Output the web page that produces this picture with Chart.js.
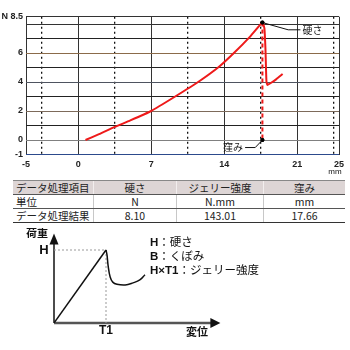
<!DOCTYPE html>
<html>
<head>
<meta charset="utf-8">
<script src="https://cdn.jsdelivr.net/npm/chart.js@4.4.1/dist/chart.umd.min.js"></script>
<style>
  body { margin: 0; background: #fff; width: 350px; height: 350px; overflow: hidden; position: relative; }
  #top { position: absolute; left: 0; top: 0; }
  #bottom { position: absolute; left: 0; top: 228px; }
  table { position: absolute; left: 13px; top: 180px; width: 332px; border-collapse: collapse;
          font: 10.5px "Noto Sans CJK JP", "Liberation Sans", sans-serif; color: #222; }
  td { height: 13px; padding: 0 3px; border-bottom: 1px solid #555; border-left: 1px solid #c8c8c8; text-align: center; line-height: 13px; }
  td:first-child { text-align: left; border-left: none; }
  tr:first-child td { background: #ddd5d5; border-top: 1px solid #888; border-left-color: #f2eeee; }
  tr:last-child td { border-bottom: 1px solid #333; }
  .legend { position: absolute; left: 150px; top: 235px; font: 11.5px "Noto Sans CJK JP", sans-serif; color: #111; line-height: 13px; }
  .legend b { font-family: "Liberation Sans", sans-serif; }
</style>
</head>
<body>
<canvas id="top" width="350" height="175"></canvas>
<table>
  <tr><td style="width:74px">データ処理項目</td><td style="width:76px">硬さ</td><td style="width:80px">ジェリー強度</td><td>窪み</td></tr>
  <tr><td>単位</td><td>N</td><td>N.mm</td><td>mm</td></tr>
  <tr><td>データ処理結果</td><td>8.10</td><td>143.01</td><td>17.66</td></tr>
</table>
<canvas id="bottom" width="350" height="122"></canvas>
<div class="legend">
  <div><b>H</b>：硬さ</div>
  <div><b>B</b>：くぼみ</div>
  <div><b>H×T1</b>：ジェリー強度</div>
</div>
<script>
// measured curve (mm, N)
const curveX = [0.7, 2, 3.5, 5, 7, 9.3, 11.5, 13.5, 15, 16.5, 17.66, 17.85, 17.95, 18.0, 18.05, 18.15, 18.5, 19.0, 19.6];
const curveY = [0, 0.4, 0.9, 1.35, 2.0, 3.0, 4.0, 5.05, 6.05, 7.15, 8.1, 7.7, 6.3, 5.0, 4.0, 3.8, 3.95, 4.2, 4.55];

// results
const hardness = 8.10;
const dent = 17.66;

// axes
const xTicks = [-5, -3.5, 0, 3.5, 7, 10.5, 14, 17.5, 21, 24.5, 25];
const xLabels = [-5, 0, 7, 14, 21, 25];
const yTicks = [-1, 0, 1, 2, 3, 4, 5, 6, 7, 8, 8.5];
const yLabels = [-1, 0, 2, 4, 6, 8.5];
const yLineColors = { '-1': '#2c4a8c', '0': '#808080', '2': '#7d6a5a', '4': '#4e5460', '6': '#8b6b4a', '8': '#333', '8.5': '#333' };

// leader lines for the two labels
const hardLeaderX = [17.66, 20.13, 21.3];
const hardLeaderY = [8.1, 7.6, 7.6];
const dentLeaderX = [17.66, 16.97, 16.0];
const dentLeaderY = [0, -0.52, -0.52];

// schematic (T1 = 1, H = 1)
const riseX = [0, 1];
const riseY = [0, 1];
const dropX = [1, 1.02, 1.04, 1.08, 1.13, 1.21, 1.37, 1.52, 1.65, 1.75];
const dropY = [1, 0.93, 0.79, 0.63, 0.56, 0.53, 0.52, 0.55, 0.59, 0.66];

const pts = (xs, ys) => xs.map((x, i) => ({ x: x, y: ys[i] }));
const isDash = v => !Number.isInteger(v) && v !== 8.5;

const labelsPlugin = {
    id: 'labels',
    afterDatasetsDraw(chart) {
        const { ctx, scales: { x, y } } = chart;
        ctx.save();
        ctx.fillStyle = '#111';
        ctx.font = '10px "Noto Sans CJK JP"';
        ctx.textBaseline = 'middle';
        ctx.textAlign = 'left';
        ctx.fillText('硬さ', x.getPixelForValue(21.5), y.getPixelForValue(7.6));
        ctx.textAlign = 'right';
        ctx.fillText('窪み', x.getPixelForValue(15.8), y.getPixelForValue(-0.52));
        ctx.textAlign = 'center';
        ctx.font = '8px "Liberation Sans"';
        ctx.fillText('mm', x.getPixelForValue(25) - 4, 172);
        ctx.restore();
    }
};

new Chart(document.getElementById('top'), {
    type: 'scatter',
    data: {
        datasets: [
            { data: pts([dent, dent], [hardness, hardness]), showLine: false, pointRadius: 2, pointBackgroundColor: '#000', pointBorderWidth: 0 },
            { data: pts([dent, dent], [0, 0]), showLine: false, pointRadius: 2, pointBackgroundColor: '#000', pointBorderWidth: 0 },
            { data: pts(curveX, curveY), showLine: true, borderColor: '#ee1a1a', borderWidth: 2, pointRadius: 0, tension: 0.15 },
            { data: pts([dent, dent], [hardness, 0]), showLine: true, borderColor: '#ee1a1a', borderWidth: 2, borderDash: [4, 3], pointRadius: 0 },
            { data: pts(hardLeaderX, hardLeaderY), showLine: true, borderColor: '#111', borderWidth: 1, pointRadius: 0 },
            { data: pts(dentLeaderX, dentLeaderY), showLine: true, borderColor: '#111', borderWidth: 1, pointRadius: 0 }
        ]
    },
    options: {
        responsive: false,
        animation: false,
        layout: { padding: { top: 16.75, right: 11, left: 0, bottom: 0 } },
        plugins: { legend: { display: false }, tooltip: { enabled: false } },
        scales: {
            x: {
                min: -5, max: 25,
                afterBuildTicks: s => { s.ticks = xTicks.map(v => ({ value: v })); },
                afterFit: s => { s.height = 20.5; },
                ticks: {
                    autoSkip: false, maxRotation: 0, padding: 5, color: '#222',
                    font: { family: 'Liberation Sans', size: 9, weight: 'bold' },
                    callback: v => xLabels.includes(v) ? String(v) : ''
                },
                grid: { drawTicks: false, color: c => isDash(c.tick.value) ? '#111' : '#333', lineWidth: c => isDash(c.tick.value) ? 1.3 : 1 },
                border: { display: false, dash: c => isDash(c.tick.value) ? [2, 3] : [] }
            },
            y: {
                min: -1, max: 8.5,
                afterBuildTicks: s => { s.ticks = yTicks.map(v => ({ value: v })); },
                afterFit: s => { s.width = 26; },
                ticks: {
                    autoSkip: false, padding: 3, color: '#222',
                    font: { family: 'Liberation Sans', size: 9, weight: 'bold' },
                    callback: v => v === 8.5 ? 'N 8.5' : (yLabels.includes(v) ? String(v) : '')
                },
                grid: {
                    drawTicks: false,
                    lineWidth: c => isDash(c.tick.value) ? 1.3 : 1,
                    color: c => isDash(c.tick.value) ? '#111' : (yLineColors[String(c.tick.value)] || '#222')
                },
                border: { display: false, dash: c => isDash(c.tick.value) ? [2, 3] : [] }
            }
        }
    },
    plugins: [labelsPlugin]
});

const axesPlugin = {
    id: 'axesArrows',
    beforeDatasetsDraw(chart) {
        const { ctx, scales: { x, y } } = chart;
        const x0 = x.getPixelForValue(0), y0 = y.getPixelForValue(0);
        const xEnd = x.getPixelForValue(x.max), yEnd = y.getPixelForValue(y.max);
        ctx.save();
        ctx.strokeStyle = '#111';
        ctx.fillStyle = '#111';
        ctx.lineWidth = 1.5;
        ctx.beginPath(); ctx.moveTo(x0, y0); ctx.lineTo(x0, yEnd + 8); ctx.stroke();
        ctx.strokeStyle = '#555';
        ctx.lineWidth = 2.5;
        ctx.beginPath(); ctx.moveTo(x0, y0); ctx.lineTo(xEnd - 8, y0); ctx.stroke();
        ctx.beginPath(); ctx.moveTo(x0, yEnd - 2); ctx.lineTo(x0 - 4.5, yEnd + 9); ctx.lineTo(x0 + 4.5, yEnd + 9); ctx.closePath(); ctx.fill();
        ctx.beginPath(); ctx.moveTo(xEnd, y0); ctx.lineTo(xEnd - 10, y0 - 5); ctx.lineTo(xEnd - 10, y0 + 5); ctx.closePath(); ctx.fill();
        ctx.restore();
    },
    afterDatasetsDraw(chart) {
        const { ctx, scales: { x, y } } = chart;
        ctx.save();
        ctx.fillStyle = '#111';
        ctx.textAlign = 'center';
        ctx.textBaseline = 'middle';
        ctx.font = 'bold 11px "Noto Sans CJK JP"';
        ctx.fillText('荷重', x.getPixelForValue(0) - 17, 5);
        ctx.fillText('変位', x.getPixelForValue(2.75), 104);
        ctx.font = 'bold 13px "Liberation Sans"';
        ctx.fillText('H', x.getPixelForValue(0) - 10, y.getPixelForValue(1));
        ctx.font = 'bold 12px "Liberation Sans"';
        ctx.fillText('T1', x.getPixelForValue(1), 103);
        ctx.restore();
    }
};

new Chart(document.getElementById('bottom'), {
    type: 'scatter',
    data: {
        datasets: [
            { data: pts(riseX, riseY), showLine: true, borderColor: '#111', borderWidth: 1.5, pointRadius: 0, order: 0 },
            { data: pts(dropX, dropY), showLine: true, borderColor: '#111', borderWidth: 1.5, pointRadius: 0, tension: 0.4, order: 0 },
            { data: pts([0, 1, 1], [1, 1, 0]), showLine: true, borderColor: '#999', borderWidth: 1, borderDash: [2, 2], pointRadius: 0, order: 1 }
        ]
    },
    options: {
        responsive: false,
        animation: false,
        layout: { padding: { top: 7.4, right: 129.6, left: 54, bottom: 27 } },
        plugins: { legend: { display: false }, tooltip: { enabled: false } },
        scales: {
            x: { display: false, min: 0, max: 3.2 },
            y: { display: false, min: 0, max: 1.2 }
        }
    },
    plugins: [axesPlugin]
});
</script>
</body>
</html>
